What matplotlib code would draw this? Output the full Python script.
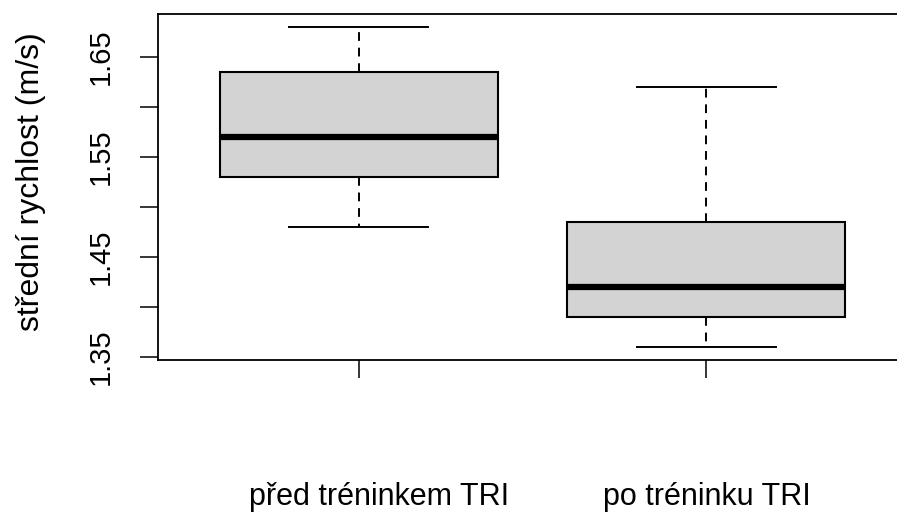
import matplotlib
matplotlib.use('Agg')
import matplotlib.pyplot as plt
import matplotlib.transforms as mtransforms
import numpy as np

plt.rcParams['font.family'] = ['Liberation Sans', 'DejaVu Sans']

# data (R boxplot statistics)
groups = ['před tréninkem TRI', 'po tréninku TRI']
whisker_low = [1.48, 1.36]
q1 = [1.53, 1.39]
median = [1.57, 1.42]
q3 = [1.635, 1.485]
whisker_high = [1.68, 1.62]

y_ticks = [1.35, 1.40, 1.45, 1.50, 1.55, 1.60, 1.65]
y_labels = ['1.35', '', '1.45', '', '1.55', '', '1.65']


def make_stats():
    stats = []
    for i in range(len(groups)):
        stats.append({'whislo': whisker_low[i], 'q1': q1[i], 'med': median[i],
                      'q3': q3[i], 'whishi': whisker_high[i], 'fliers': []})
    return stats


fig = plt.figure(figsize=(8.97, 5.13), dpi=100)
# axes run past the right edge like in the cropped original
ax = fig.add_axes([158 / 897, 153.5 / 513, 750 / 897, 345.5 / 513])

positions = np.arange(1, len(groups) + 1)
ax.bxp(make_stats(), positions=positions, widths=0.8, patch_artist=True,
       showfliers=False,
       boxprops=dict(facecolor='#d3d3d3', edgecolor='black', linewidth=1.5),
       medianprops=dict(color='black', linewidth=4.5),
       whiskerprops=dict(color='black', linewidth=1.4, linestyle=(0, (4.5, 3.5))),
       capprops=dict(color='black', linewidth=1.4),
       capwidths=0.4)

lo = min(whisker_low)
hi = max(whisker_high)
pad = (hi - lo) * 0.04
ax.set_ylim(lo - pad, hi + pad)
ax.set_xlim(0.422, 2.58)

ax.set_yticks(y_ticks)
ax.set_yticklabels(y_labels, rotation=90, va='center', fontsize=21)
ax.set_xticks(positions)
ax.set_xticklabels(groups, fontsize=22)

ax.tick_params(axis='y', length=13, width=1.1, pad=18)
ax.tick_params(axis='x', length=13, width=1.1, pad=75)

# first group label sits a bit right of its tick in the original
lbl = ax.get_xticklabels()[0]
lbl.set_transform(lbl.get_transform() +
                  mtransforms.ScaledTranslation(20 / 100, 0, fig.dpi_scale_trans))

for s in ax.spines.values():
    s.set_linewidth(1.3)

ax.set_ylabel('střední rychlost (m/s)', fontsize=23)
ax.yaxis.set_label_coords(-0.150, 0.515)

fig.savefig('out.png', dpi=100)
